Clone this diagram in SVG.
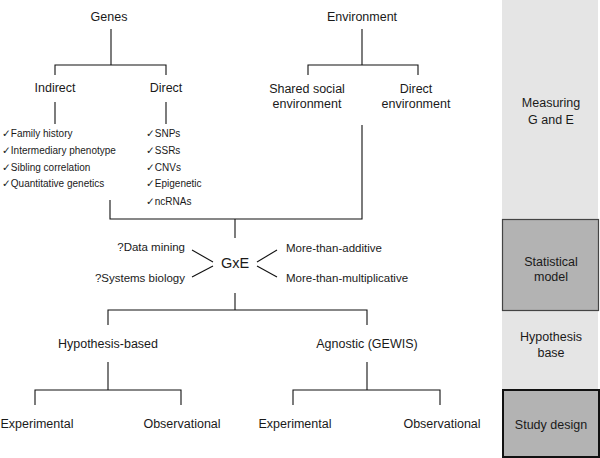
<svg xmlns="http://www.w3.org/2000/svg" width="600" height="458" viewBox="0 0 600 458">
<style>
text{font-family:"Liberation Sans",Arial,sans-serif;fill:#1a1a1a}
.m{font-size:12.5px;text-anchor:middle}
.s{font-size:10px}
.k{font-family:"DejaVu Sans",sans-serif;font-size:10.5px}
.r{font-size:11.5px}
.c line,.c polyline{stroke:#111;stroke-width:1.1;fill:none}
</style>
<g id="panel">
<rect x="502" y="0" width="96" height="458" fill="#e5e5e5"/>
<rect x="502.5" y="219.5" width="96" height="91" fill="#b3b3b3" stroke="#444" stroke-width="1.2"/>
<rect x="503" y="390" width="96" height="67" fill="#b3b3b3" stroke="#111" stroke-width="2"/>
<text class="m" x="551" y="107">Measuring</text>
<text class="m" x="551" y="124">G and E</text>
<text class="m" x="551" y="266">Statistical</text>
<text class="m" x="551" y="281">model</text>
<text class="m" x="551" y="341">Hypothesis</text>
<text class="m" x="551" y="357">base</text>
<text class="m" x="551" y="429">Study design</text>
</g>
<g class="c" id="connectors">
<line x1="111" y1="29" x2="111" y2="65"/>
<polyline points="55,75 55,65 166,65 166,75"/>
<line x1="55" y1="102" x2="55" y2="124"/>
<line x1="166" y1="102" x2="166" y2="124"/>
<line x1="362" y1="29" x2="362" y2="65"/>
<polyline points="308,75 308,65 418,65 418,75"/>
<polyline points="110,200 110,219 362,219 362,125"/>
<line x1="235" y1="219" x2="235" y2="238"/>
<polyline points="192,250 213,262"/>
<polyline points="213,266 192,277"/>
<polyline points="277,250 257,262"/>
<polyline points="257,266 277,277"/>
<line x1="235" y1="293" x2="235" y2="310"/>
<polyline points="108,325 108,310 367,310 367,325"/>
<line x1="108" y1="362" x2="108" y2="390"/>
<line x1="367" y1="362" x2="367" y2="390"/>
<polyline points="35,405 35,390 181,390 181,405"/>
<polyline points="293,405 293,390 440,390 440,405"/>
</g>
<g id="genes"><text class="m" x="109" y="21">Genes</text></g>
<g id="environment"><text class="m" x="362" y="21">Environment</text></g>
<g id="indirect"><text class="m" x="55" y="91.5">Indirect</text></g>
<g id="direct"><text class="m" x="166" y="91.5">Direct</text></g>
<g id="shared"><text class="m" x="307" y="92.5">Shared social</text><text class="m" x="307" y="107.5">environment</text></g>
<g id="directenv"><text class="m" x="416" y="92.5">Direct</text><text class="m" x="416" y="107.5">environment</text></g>
<g id="indirect-list">
<text class="s" x="2" y="136.5"><tspan class="k">✓</tspan>Family history</text>
<text class="s" x="2" y="153.5"><tspan class="k">✓</tspan>Intermediary phenotype</text>
<text class="s" x="2" y="170.5"><tspan class="k">✓</tspan>Sibling correlation</text>
<text class="s" x="2" y="186.5"><tspan class="k">✓</tspan>Quantitative genetics</text>
</g>
<g id="direct-list">
<text class="s" x="146" y="136.5"><tspan class="k">✓</tspan>SNPs</text>
<text class="s" x="146" y="153.5"><tspan class="k">✓</tspan>SSRs</text>
<text class="s" x="146" y="170.5"><tspan class="k">✓</tspan>CNVs</text>
<text class="s" x="146" y="186.5"><tspan class="k">✓</tspan>Epigenetic</text>
<text class="s" x="146" y="204.5"><tspan class="k">✓</tspan>ncRNAs</text>
</g>
<g id="gxe"><text x="235" y="268" font-size="14.5" text-anchor="middle">GxE</text></g>
<g id="datamining"><text class="r" x="185" y="251" text-anchor="end">?Data mining</text></g>
<g id="systems"><text class="r" x="185" y="282" text-anchor="end">?Systems biology</text></g>
<g id="additive"><text class="r" x="286" y="252">More-than-additive</text></g>
<g id="multiplicative"><text class="r" x="286" y="282">More-than-multiplicative</text></g>
<g id="hypothesis"><text class="m" x="108" y="347.5">Hypothesis-based</text></g>
<g id="agnostic"><text class="m" x="367" y="347.5">Agnostic (GEWIS)</text></g>
<g id="exp1"><text class="m" x="37" y="427.5">Experimental</text></g>
<g id="obs1"><text class="m" x="182" y="427.5">Observational</text></g>
<g id="exp2"><text class="m" x="295" y="427.5">Experimental</text></g>
<g id="obs2"><text class="m" x="442" y="427.5">Observational</text></g>
</svg>
